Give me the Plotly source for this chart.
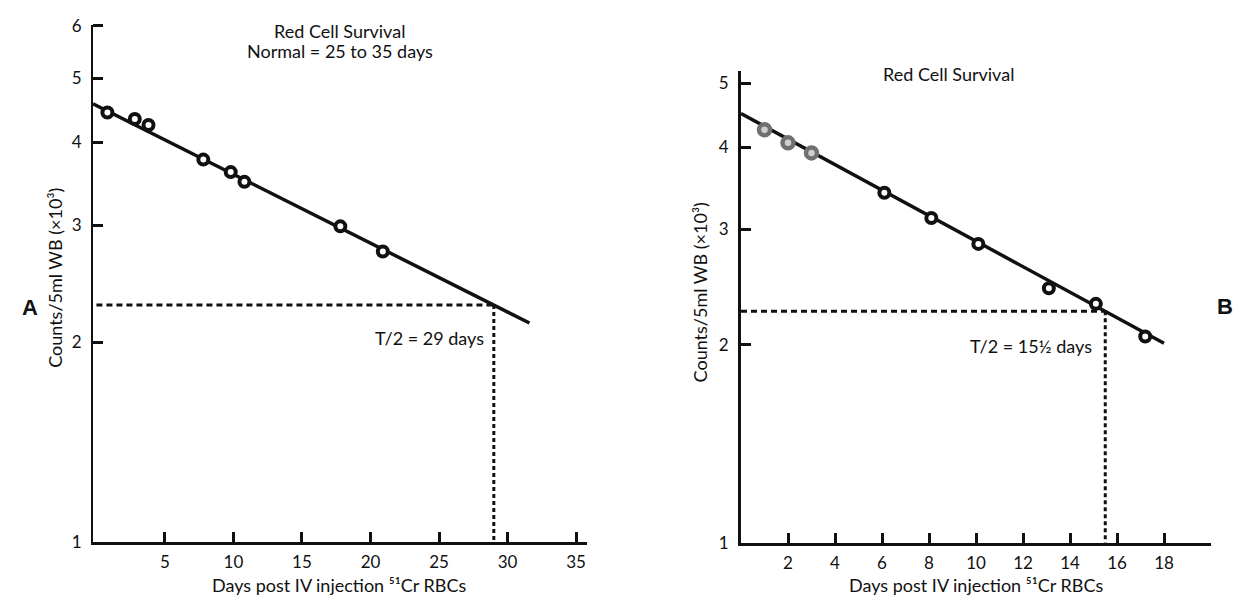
import numpy as np
import plotly.graph_objects as go

# ---- Panel A: normal red cell survival ----
days_a = [0.8, 2.8, 3.8, 7.8, 9.8, 10.8, 17.8, 20.9]
counts_a = [4.44, 4.34, 4.25, 3.77, 3.61, 3.49, 2.99, 2.74]
fit_start_a = 4.55          # fitted count at day 0 (x10^3)
half_life_a = 29            # days
fit_span_a = [-0.25, 31.6]  # extent of the fitted line

# ---- Panel B: shortened red cell survival ----
days_b = [1.0, 2.0, 3.0, 6.1, 8.1, 10.1, 13.1, 15.1, 17.2]
counts_b = [4.25, 4.06, 3.92, 3.41, 3.12, 2.85, 2.44, 2.31, 2.06]
faded_b = 3                 # first points printed in grey
fit_start_b = 4.5
half_life_b = 15.5
fit_span_b = [0, 18]

y_ticks_a = [1, 2, 3, 4, 5, 6]
y_ticks_b = [1, 2, 3, 4, 5]
x_ticks_a = [5, 10, 15, 20, 25, 30, 35]
x_ticks_b = [2, 4, 6, 8, 10, 12, 14, 16, 18]

FONT = "Lato"
INK = "#111111"
W, H = 1252, 607


def px(x):
    return x / W


def py(y):
    return 1 - y / H


def fit(start, half, t):
    t = np.asarray(t, dtype=float)
    return start * 0.5 ** (t / half)


fig = go.Figure()

for xa, ya, span, start, half in (
    ("x", "y", fit_span_a, fit_start_a, half_life_a),
    ("x2", "y2", fit_span_b, fit_start_b, half_life_b),
):
    x0 = 0 if xa == "x" else span[0]
    # fitted decay line
    fig.add_trace(go.Scatter(
        x=span, y=fit(start, half, span), mode="lines",
        line=dict(color=INK, width=3.5), xaxis=xa, yaxis=ya, hoverinfo="skip"))
    # half-life construction lines
    fig.add_trace(go.Scatter(
        x=[x0, half], y=[start / 2, start / 2], mode="lines",
        line=dict(color=INK, width=3, dash="6px,4px"), xaxis=xa, yaxis=ya))
    fig.add_trace(go.Scatter(
        x=[half, half], y=[start / 2, 1], mode="lines",
        line=dict(color=INK, width=3, dash="4px,3px"), xaxis=xa, yaxis=ya))

fig.add_trace(go.Scatter(
    x=days_a, y=counts_a, mode="markers",
    marker=dict(symbol="circle", size=10, color="white",
                line=dict(color=INK, width=4)),
    xaxis="x", yaxis="y"))

fig.add_trace(go.Scatter(
    x=days_b[:faded_b], y=counts_b[:faded_b], mode="markers",
    marker=dict(symbol="circle", size=11, color="#cfcfcf",
                line=dict(color="#707070", width=4.5)),
    xaxis="x2", yaxis="y2"))
fig.add_trace(go.Scatter(
    x=days_b[faded_b:], y=counts_b[faded_b:], mode="markers",
    marker=dict(symbol="circle", size=10, color="white",
                line=dict(color=INK, width=4)),
    xaxis="x2", yaxis="y2"))

tickfont = dict(family=FONT, size=17, color=INK)


def xaxis(domain, rng, ticks, width):
    return dict(domain=domain, range=rng, tickvals=ticks,
                ticktext=[str(t) for t in ticks], ticks="inside", ticklen=10,
                tickwidth=2.5, tickcolor=INK, showline=True, linecolor=INK,
                linewidth=width, showgrid=False, zeroline=False,
                tickfont=tickfont, ticklabelstandoff=3)


def yaxis(domain, top, ticks, width):
    return dict(domain=domain, type="log", range=[0, np.log10(top)],
                tickvals=ticks, ticktext=[str(t) for t in ticks],
                ticks="inside", ticklen=10, tickwidth=2.5, tickcolor=INK,
                showline=True, linecolor=INK, linewidth=width, showgrid=False,
                zeroline=False, tickfont=tickfont, ticklabelstandoff=6)


xa1 = xaxis([px(93), px(587)], [-0.25, 35.8], x_ticks_a, 2.5)
xa1["anchor"] = "y"
xa2 = xaxis([px(741), px(1211)], [0, 20], x_ticks_b, 3)
xa2["anchor"] = "y2"
ya1 = yaxis([py(550), py(15)], 10 ** 0.78, y_ticks_a, 1.8)
ya1["anchor"] = "x"
ya2 = yaxis([py(551), py(63)], 10 ** 0.718, y_ticks_b, 3)
ya2["anchor"] = "x2"

txt = dict(family=FONT, size=18, color=INK)
annotations = [
    dict(text="Red Cell Survival", x=px(340), y=py(22)),
    dict(text="Normal = 25 to 35 days", x=px(340), y=py(42)),
    dict(text="Red Cell Survival", x=px(948), y=py(66)),
    dict(text="Counts/5ml WB (×10³)", x=px(55), y=py(277), textangle=-90),
    dict(text="Counts/5ml WB (×10³)", x=px(700), y=py(292), textangle=-90),
    dict(text="Days post IV injection ⁵¹Cr RBCs", x=px(339), y=py(595)),
    dict(text="Days post IV injection ⁵¹Cr RBCs", x=px(976), y=py(595)),
]
for a in annotations:
    a.update(xref="paper", yref="paper", showarrow=False, font=txt,
             xanchor="center", yanchor="middle")

annotations += [
    dict(text="T/2 = 29 days", x=28.4, y=np.log10(2.03), xref="x", yref="y",
         xanchor="right", yanchor="middle", showarrow=False, font=txt),
    dict(text="T/2 = 15½ days", x=15.0, y=np.log10(1.99), xref="x2", yref="y2",
         xanchor="right", yanchor="middle", showarrow=False, font=txt),
    dict(text="<b>A</b>", x=px(20), y=py(308), xref="paper", yref="paper",
         showarrow=False, font=dict(family="Liberation Sans", size=22, color=INK)),
    dict(text="<b>B</b>", x=px(1235), y=py(307), xref="paper", yref="paper",
         showarrow=False, font=dict(family="Liberation Sans", size=22, color=INK)),
]

fig.update_layout(
    width=W, height=H, margin=dict(l=0, r=0, t=0, b=0),
    paper_bgcolor="white", plot_bgcolor="white", showlegend=False,
    xaxis=xa1, yaxis=ya1, xaxis2=xa2, yaxis2=ya2,
    annotations=annotations, font=dict(family=FONT, color=INK),
)

fig.write_html("out.html")
